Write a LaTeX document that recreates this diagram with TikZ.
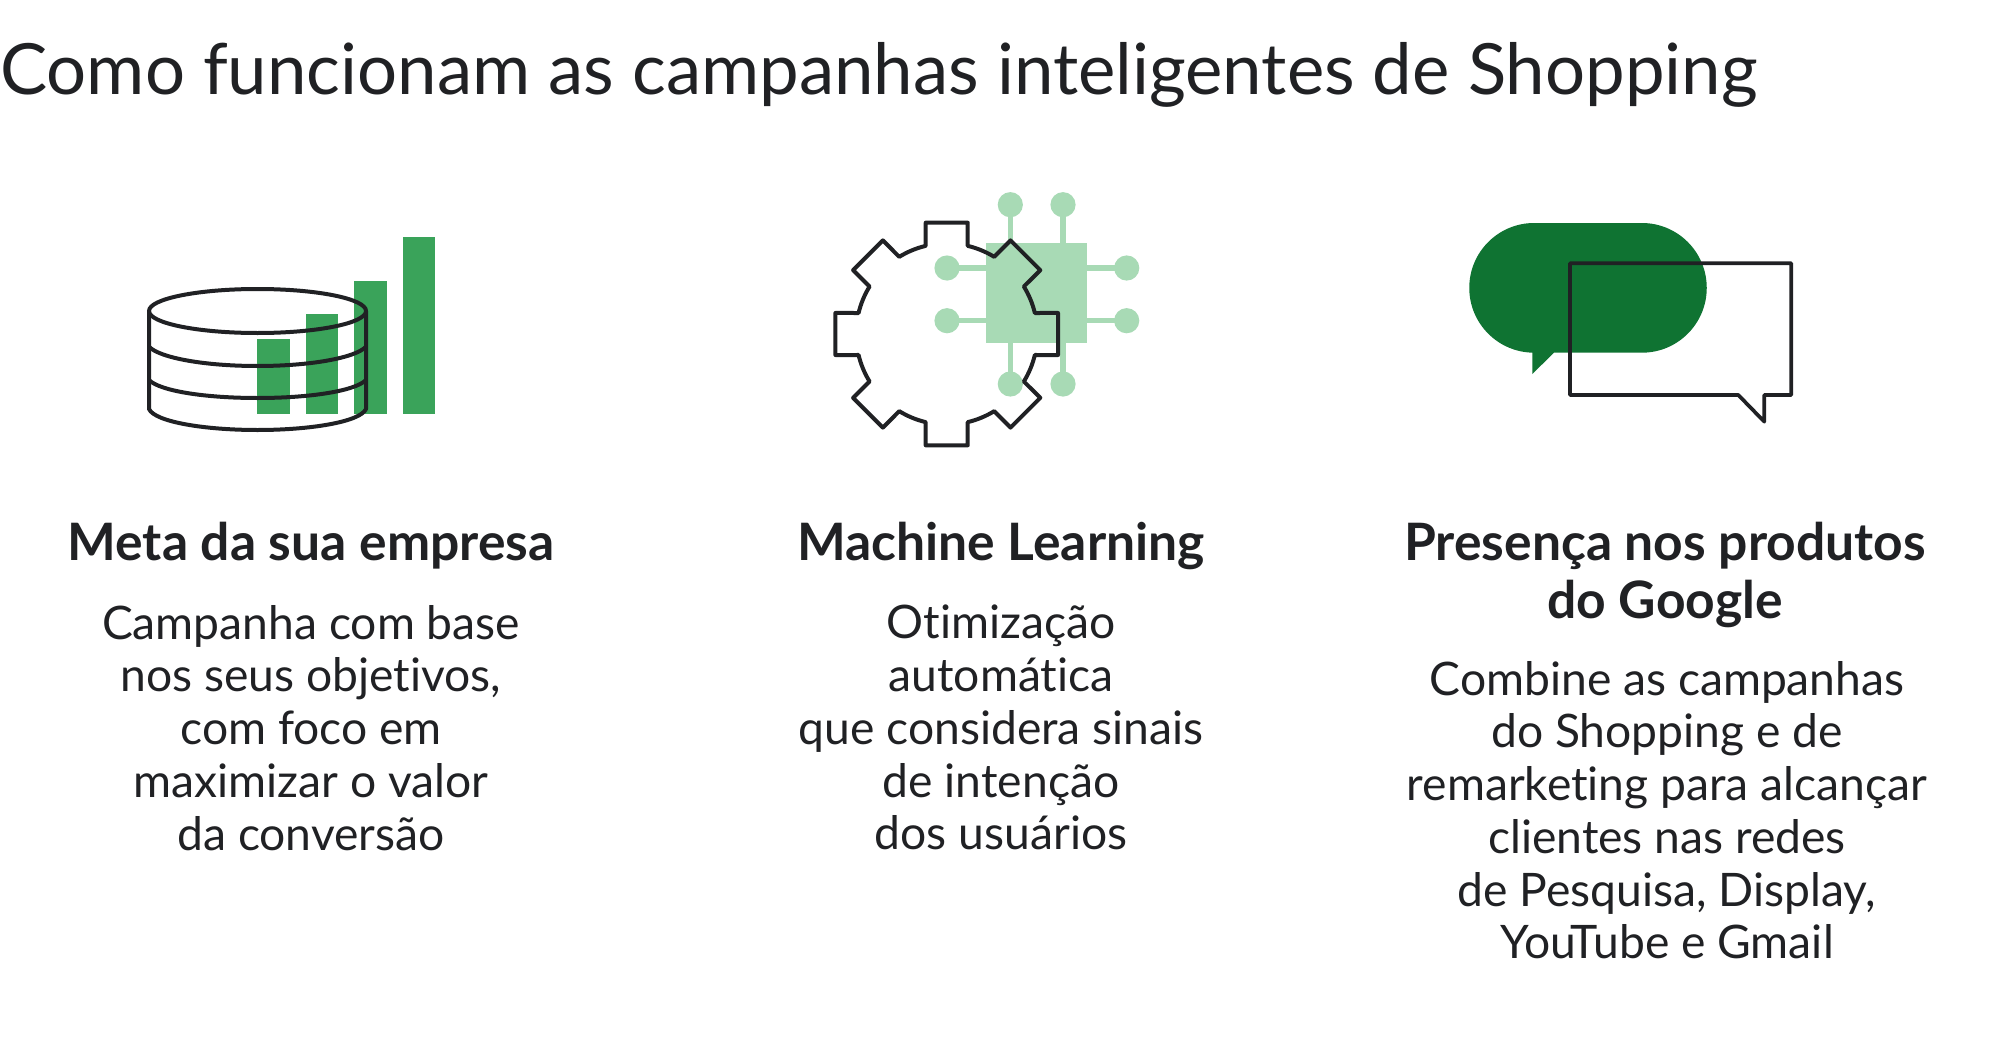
\documentclass[tikz,border=0pt]{standalone}
\usepackage{xcolor}
\usepackage{fontspec}
\setmainfont{Lato}[Ligatures=NoCommon]
\usetikzlibrary{calc,positioning}
\definecolor{inkgrey}{HTML}{202124}
\definecolor{bargreen}{HTML}{3AA35A}
\definecolor{chipgreen}{HTML}{A8DAB5}
\definecolor{bubblegreen}{HTML}{0F7332}
\tikzset{
  headtext/.style={anchor=north,align=center,inner sep=0pt,text=inkgrey,font=\fontsize{51.6}{57.5}\selectfont\bfseries},
  bodytext/.style={anchor=north,align=center,inner sep=0pt,text=inkgrey,font=\fontsize{46.2}{52.7}\selectfont},
  outline/.style={draw=inkgrey,line width=4pt,line join=round}
}
\begin{document}
\begin{tikzpicture}[x=1pt,y=-1pt]
\useasboundingbox (0,0) rectangle (2000,1041);

\node[anchor=base west,inner sep=0pt,text=inkgrey,font=\fontsize{70.7}{80}\selectfont] (title) at (0,95) {Como funcionam as campanhas inteligentes de Shopping};

% the database

    \fill[bargreen] (257.3,339) rectangle (290,414);
    \fill[bargreen] (306,314.3) rectangle (338.3,414);
    \fill[bargreen] (354.3,281) rectangle (387,414);
    \fill[bargreen] (403,237) rectangle (435.3,414);

    \draw[outline] (257.5,311) ellipse [x radius=108.5,y radius=22];
    \draw[outline] (149,346.7) .. controls (160,358) and (205,366) .. (257.5,366) .. controls (310,366) and (355,358) .. (366,346.7);
    \draw[outline] (149,380) .. controls (160,391) and (205,398) .. (257.5,398) .. controls (310,398) and (355,391) .. (366,380);
    \draw[outline] (149,311) -- (149,409) .. controls (155,422) and (205,430) .. (257.5,430) .. controls (310,430) and (360,422) .. (366,409) -- (366,311);

% the chip

    \foreach \x in {1010.3,1063}{
      \draw[chipgreen,line width=5.3pt] (\x,204.7) -- (\x,384);
      \fill[chipgreen] (\x,204.7) circle (12.6);
      \fill[chipgreen] (\x,384) circle (12.6);
    }
    \foreach \y in {268,320.7}{
      \draw[chipgreen,line width=5.3pt] (947,\y) -- (1126.7,\y);
      \fill[chipgreen] (947,\y) circle (12.6);
      \fill[chipgreen] (1126.7,\y) circle (12.6);
    }
    \fill[chipgreen] (986,243) rectangle (1086.7,343.3);

% the gear

    \begin{scope}[shift={(946.7,334)}]
      \draw[outline] (-13.4:90.6)
      \foreach \a in {0,45,...,315}{
        -- (\a-13.4:90.6) -- (\a-10.7:113.3) -- (\a+10.7:113.3) -- (\a+13.4:90.6)
        arc [start angle=\a+13.4,end angle=\a+31.6,radius=90.6]
      } -- cycle;
    \end{scope}

% the bubbles

    \fill[bubblegreen] (1534.1,223) -- (1641.9,223) arc [start angle=-90,end angle=90,radius=64.85]
      -- (1554,352.7) -- (1532.3,374) -- (1532.3,352.7) -- (1534.1,352.7)
      arc [start angle=90,end angle=270,radius=64.85] -- cycle;
    \draw[outline,line width=3.7pt] (1570,263.3) -- (1791.3,263.3) -- (1791.3,395) -- (1764.3,395)
      -- (1764.3,421.7) -- (1738.3,395) -- (1570,395) -- cycle;

% the texts

    \node[headtext] (metahead) at (311,522) {Meta da sua empresa};
    \node[bodytext] (metabody) at (311,605) {Campanha com base\\nos seus objetivos,\\com foco em\\maximizar o valor\\da conversão};

    \node[headtext] (mlhead) at (1001,522) {Machine Learning};
    \node[bodytext] (mlbody) at (1001,605) {Otimização\\automática\\que considera sinais\\de intenção\\dos usuários};

    \node[headtext] (googlehead) at (1665,522) {Presença nos produtos\\do Google};
    \node[bodytext] (googlebody) at (1667,661) {Combine as campanhas\\do Shopping e de\\remarketing para alcançar\\clientes nas redes\\de Pesquisa, Display,\\YouTube e Gmail};

\end{tikzpicture}
\end{document}
